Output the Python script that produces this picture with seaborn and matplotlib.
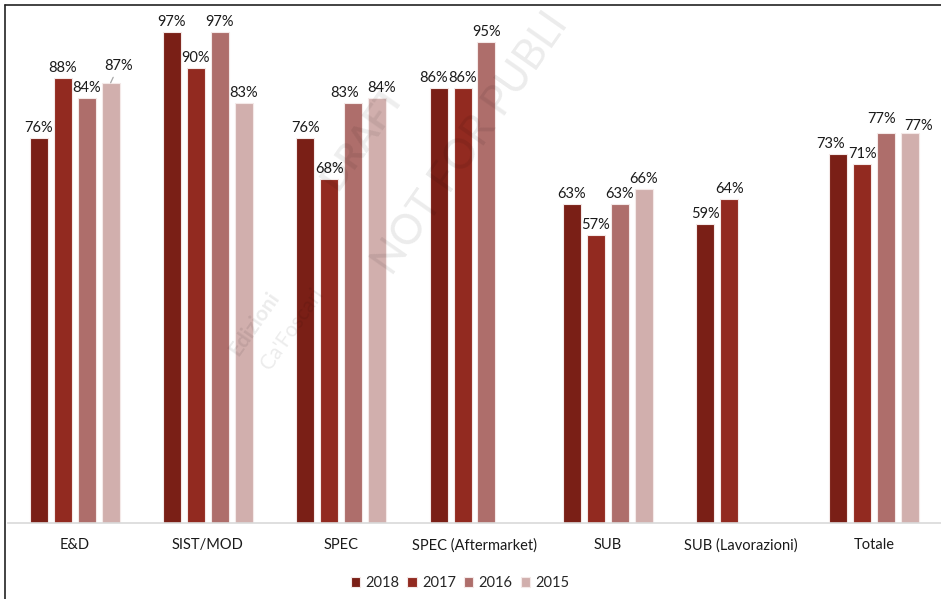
import numpy as np
import pandas as pd
import matplotlib
matplotlib.use("Agg")
import matplotlib.pyplot as plt
import seaborn as sns
from matplotlib.lines import Line2D

categories = ["E&D", "SIST/MOD", "SPEC", "SPEC (Aftermarket)", "SUB", "SUB (Lavorazioni)", "Totale"]
years = ["2018", "2017", "2016", "2015"]
v2018 = [76, 97, 76, 86, 63, 59, 73]
v2017 = [88, 90, 68, 86, 57, 64, 71]
v2016 = [84, 97, 83, 95, 63, np.nan, 77]
v2015 = [87, 83, 84, np.nan, 66, np.nan, 77]
colors = ["#7A1F16", "#922A20", "#AE6E6B", "#D1AFAD"]

# label nudges in pixels (dx, dy up), as placed in the original
label_nudge = {
    ("E&D", "2015"): (8, 7),
    ("SPEC", "2016"): (-9, 0),
    ("SPEC", "2015"): (4, 0),
    ("SPEC (Aftermarket)", "2018"): (-5, 0),
    ("Totale", "2018"): (-8, 0),
    ("Totale", "2016"): (-5, 4),
    ("Totale", "2015"): (8, -3),
}

rows = []
for y, vals in zip(years, [v2018, v2017, v2016, v2015]):
    for c, v in zip(categories, vals):
        rows.append({"cat": c, "year": y, "val": v})
df = pd.DataFrame(rows)

sns.set_theme(style="white")
plt.rcParams["font.family"] = ["Lato", "DejaVu Sans"]

fig = plt.figure(figsize=(9.41, 5.99), dpi=100)
ax = fig.add_axes([8/941, 76/599, 933/941, (523-17)/599])

sns.barplot(data=df, x="cat", y="val", hue="year", order=categories, hue_order=years,
            palette=colors, saturation=1, width=0.72, gap=0.25, edgecolor="#f4e9e8",
            linewidth=0.8, ax=ax, legend=True)

ax.set_xlim(-0.5, 6.5)
ax.set_ylim(0, 100)
ax.set_xlabel("")
ax.set_ylabel("")
ax.set_yticks([])
for s in ["top", "right", "left"]:
    ax.spines[s].set_visible(False)
ax.spines["bottom"].set_color("#d9d9d9")
ax.spines["bottom"].set_linewidth(1.2)
ax.tick_params(axis="x", length=0, pad=11, labelsize=10.5, labelcolor="#1a1a1a")

px = 72 / 100.0
for yi, cont in enumerate(ax.containers):
    yr = years[yi]
    for bar in cont:
        h = bar.get_height()
        if np.isnan(h) or h == 0:
            continue
        xc = bar.get_x() + bar.get_width()/2
        cat = categories[int(round(xc))]
        dx, dy = label_nudge.get((cat, yr), (0, 0))
        kw = dict(xytext=(dx*px, (3+dy)*px), textcoords="offset points",
                  ha="center", va="bottom", fontsize=10.5, color="#1a1a1a")
        if dy > 4:
            kw["arrowprops"] = dict(arrowstyle="-", color="#a6a6a6", lw=0.9, shrinkA=1, shrinkB=0)
        ax.annotate(f"{int(round(h))}%", (xc, h), **kw)

leg = ax.legend(loc="center", bbox_to_anchor=(460/941, 16/599), bbox_transform=fig.transFigure,
                ncol=4, frameon=False, fontsize=10.5, handlelength=0.65, handleheight=0.65,
                handletextpad=0.35, columnspacing=0.55)

# watermark
fig.text(0.385, 0.77, "DRAFT", rotation=55, fontsize=26, fontweight="bold", color="#000000",
         alpha=0.07, ha="center", va="center")
fig.text(0.50, 0.76, "NOT FOR PUBLI", rotation=55, fontsize=30, color="#000000",
         alpha=0.08, ha="center", va="center")
fig.text(0.27, 0.46, "Edizioni", rotation=55, fontsize=15, fontweight="bold", color="#000000",
         alpha=0.08, ha="center", va="center")
fig.text(0.31, 0.45, "Ca'Foscari", rotation=55, fontsize=15, color="#000000",
         alpha=0.08, ha="center", va="center")

# figure frame (top and left)
fig.add_artist(Line2D([5/941, 1], [1-5/599, 1-5/599], transform=fig.transFigure, color="#222222", lw=1.2))
fig.add_artist(Line2D([5/941, 5/941], [0, 1-5/599], transform=fig.transFigure, color="#222222", lw=1.2))

fig.savefig("out.png", dpi=100)
